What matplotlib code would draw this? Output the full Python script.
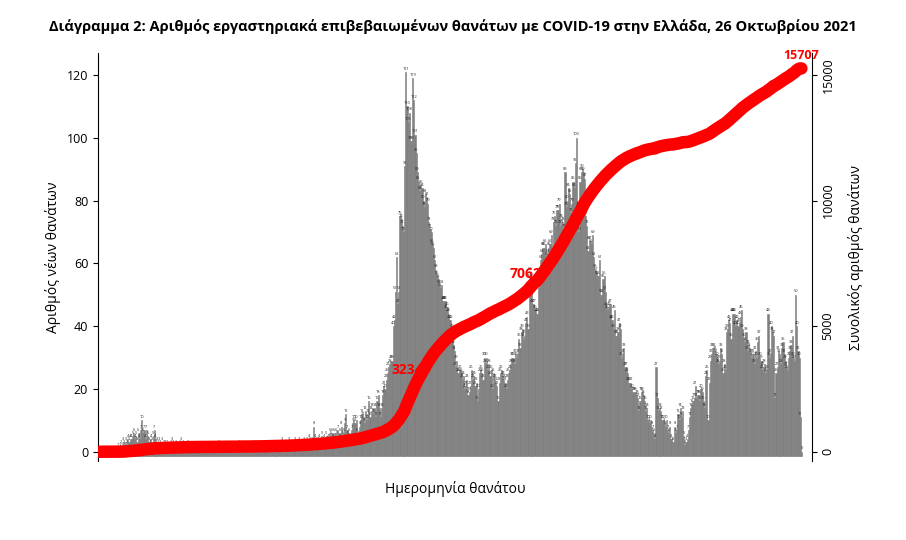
import matplotlib
matplotlib.use("Agg")
import matplotlib.pyplot as plt
import numpy as np

plt.rcParams["font.family"] = "Open Sans"

# daily deaths, day 0 = 2020-02-26
pre_start = [0] * 15
wave1 = [1, 0, 1, 2, 1, 3, 2, 3, 2, 4, 3, 4, 4, 5, 6, 4, 5, 3, 6, 4,
         7, 10, 6, 7, 4, 7, 5, 3, 2, 4, 3, 5, 7, 4, 3, 2, 3, 2, 1, 3,
         2, 2, 1, 2, 1, 1, 2, 3, 2, 1, 0, 2, 1, 1, 2, 3, 1, 2, 0, 1,
         1, 2, 1, 0, 1, 0, 1, 1, 0, 1, 0, 1, 0]
summer = [0, 1, 0, 0, 1, 0, 0, 1, 0, 0, 1, 0, 1, 0, 0, 2, 0, 1, 0, 0,
          1, 0, 0, 1, 0, 1, 0, 0, 0, 1, 0, 1, 2, 0, 1, 0, 0, 1, 0, 0,
          1, 0, 0, 1, 0, 2, 1, 0, 1, 0, 0, 1, 0, 1, 2, 1, 1, 0, 1, 2,
          1, 0, 1, 1, 2, 1, 0, 1, 2, 1, 3, 1, 2, 0, 2, 1, 3, 2, 1, 2,
          2, 3, 1, 2, 3, 2, 2, 1, 2, 3, 2, 3, 2, 4, 3, 2, 3, 8, 4, 3,
          2, 3, 4, 2, 5, 3, 4, 2, 5, 3, 4, 6]
autumn = [5, 6, 4, 6, 6, 5, 7, 4, 6, 8, 5, 6, 9, 12, 7, 5, 6, 4, 7, 9,
          10, 9, 10, 6, 5, 8, 10, 12, 11, 9, 13, 10, 12, 16, 11, 13, 14, 12, 14, 11,
          16, 18]
wave2_up = [14, 11, 14, 18, 21, 20, 23, 25, 27, 28, 29, 29, 40, 42, 51, 62, 47, 51,
            75, 74, 72, 70, 91, 121]
wave2_down = [110, 105, 108, 99, 99, 119, 112, 101, 95, 89, 86, 83, 85, 84, 80, 78,
              82, 81, 79, 73, 71, 70, 66, 65, 61, 58, 56, 55, 53, 52, 53, 48, 48, 48,
              45, 46, 44, 42, 42, 39, 34, 32, 27, 29, 25, 25, 26, 25, 23, 24, 20, 21,
              23, 18, 19, 21, 26, 23, 24, 21, 22, 16, 20, 25, 26, 25, 23, 30, 28]
winter = [30, 26, 28, 24, 26, 20, 25, 23, 22, 21, 16, 22, 25, 26, 24, 23, 22, 20,
          23, 25, 26, 28, 30, 30, 28, 31, 30]
wave3_up = [31, 36, 33, 38, 39, 36, 37, 41, 43, 39, 55, 57, 54, 47, 47, 45, 44, 44,
            52, 56, 61, 63, 65, 65, 66, 62]
wave3_peak = [63, 65, 66, 69, 60, 73, 75, 72, 77, 77, 79, 72, 74, 73, 71, 89, 78, 80,
              84, 82, 76, 79, 86, 84, 92, 100, 78, 70, 86, 89, 90, 89, 87, 75, 72, 64,
              67, 67, 66, 69, 62, 58, 57]
wave3_down = [56, 56, 61, 50, 50, 55, 56, 51, 46, 45, 46, 47, 42, 42, 39, 45, 37, 37,
              38, 41, 39, 30, 31, 33, 27, 27, 25, 22, 22, 22, 20, 19, 19, 19, 18, 17,
              13, 16, 19, 19, 18, 16, 13, 14, 10, 9, 10, 8, 7, 6, 4]
trough = [27, 17, 13, 14, 13, 10, 10, 9, 8, 10, 7, 6, 8, 4, 3, 3, 8, 6, 7, 12,
          10, 14, 11, 13, 5, 2, 3, 4]
wave4_up = [7, 11, 14, 15, 16, 17, 21, 17, 18, 18, 16, 20, 19, 16, 14, 24, 26, 10,
            22, 29, 31, 33, 33, 32, 31, 30, 28, 29, 33]
wave4 = [31, 25, 28, 26, 38, 39, 42, 41, 36, 44, 44, 44, 40, 42, 40, 41, 43, 45, 39, 36,
         35, 38, 32, 34, 33, 31, 30, 31, 28, 32, 30, 35, 37, 30, 29, 26, 27, 28, 25, 26,
         44, 30, 31, 40, 38, 37, 17, 25, 27, 32, 31, 28, 33, 35, 31, 29, 27, 26, 30, 32,
         34, 37, 30, 29, 50, 40, 32, 30, 11, 0]

segments = [pre_start, wave1, summer, autumn, wave2_up, wave2_down, winter,
            wave3_up, wave3_peak, wave3_down, trough, wave4_up, wave4]
daily = np.array([v for seg in segments for v in seg])
days = np.arange(len(daily))
cumulative = np.cumsum(daily)

year_tick_day = 310          # 2021-01-01
final_total = 15707
cum_label_days = [280, 383]  # red labels in the middle of the curve

fig = plt.figure(figsize=(9.06, 5.4), dpi=100)
ax = fig.add_axes([0.108, 0.146, 0.788, 0.756])
ax2 = ax.twinx()

ax.bar(days, daily + 1.5, bottom=-1.5, width=1.0, color="#7f7f7f",
       edgecolor="#7f7f7f", linewidth=0.4)
for d, v in zip(days, daily):
    ax.text(d, v + 0.4, str(v), fontsize=2.8, ha="center", va="bottom", color="#222222")

for d in cum_label_days:
    ax2.text(d, cumulative[d], str(cumulative[d]), color="red", fontsize=10,
             fontweight="bold", ha="right", va="center", zorder=2)
ax2.plot(days, cumulative, color="red", lw=9, solid_capstyle="round", zorder=3)
ax2.text(days[-1], cumulative[-1] + 250, str(final_total), color="red", fontsize=9,
         fontweight="bold", ha="center", va="bottom")

ax.set_xlim(-2, len(daily) + 8)
ax.set_ylim(-3, 127)
ax2.set_ylim(-375, 15875)

ax.set_yticks(range(0, 121, 20))
ax.tick_params(axis="y", labelsize=9)
ax2.set_yticks([0, 5000, 10000, 15000])
ax2.set_yticklabels(["0", "5000", "10000", "15000"], rotation=90, va="center", fontsize=9)
ax.set_xticks([year_tick_day])
ax.set_xticklabels(["2021"], fontsize=9)
ax.tick_params(axis="x", length=6, pad=20)
ax2.set_xticks([])

for a in (ax, ax2):
    a.spines["top"].set_visible(False)
    a.spines["bottom"].set_visible(False)
ax.spines["right"].set_visible(False)
ax2.spines["left"].set_visible(False)

ax.set_ylabel("Αριθμός νέων θανάτων", fontsize=10)
ax2.set_ylabel("Συνολικός αριθμός θανάτων", fontsize=10, labelpad=10)
ax.set_xlabel("Ημερομηνία θανάτου", fontsize=10, labelpad=14)
fig.suptitle("Διάγραμμα 2: Αριθμός εργαστηριακά επιβεβαιωμένων θανάτων με COVID-19 στην Ελλάδα, 26 Οκτωβρίου 2021",
             fontsize=10.5, fontweight="bold", y=0.965)

fig.savefig("out.png", dpi=100)
